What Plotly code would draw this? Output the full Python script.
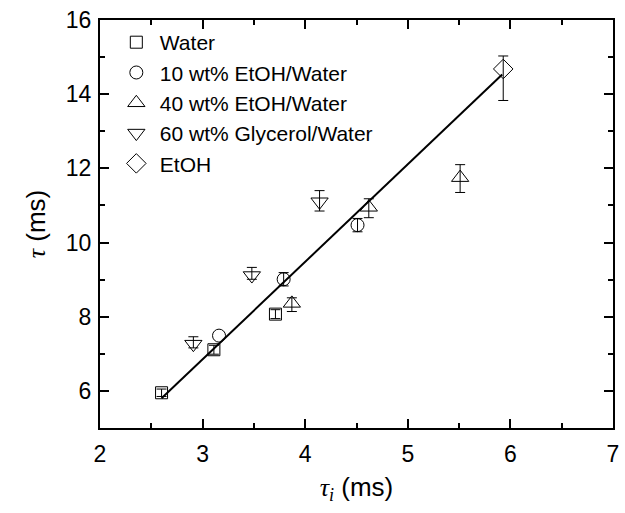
import plotly.graph_objects as go

# Measured lifetimes: tau_i (x) against tau (y), with y uncertainties
water_x = [2.60, 3.11, 3.71]
water_y = [5.95, 7.11, 8.07]
water_err = [0.10, 0.12, 0.12]

etoh10_x = [3.16, 3.79, 4.51]
etoh10_y = [7.49, 9.01, 10.47]
etoh10_err = ["NaN", 0.18, 0.18]   # first point has no error bar

etoh40_x = [3.87, 4.62, 5.51]
etoh40_y = [8.36, 10.95, 11.75]
etoh40_up = [0.15, 0.23, 0.35]
etoh40_dn = [0.22, 0.28, 0.40]

glyc60_x = [2.91, 3.48, 4.14]
glyc60_y = [7.26, 9.11, 11.10]
glyc60_up = [0.20, 0.22, 0.30]
glyc60_dn = [0.10, 0.10, 0.25]

etoh_x = [5.93]
etoh_y = [14.68]
etoh_up = [0.35]
etoh_dn = [0.85]

fit_x = [2.60, 5.92]
fit_y = [5.80, 14.53]

FONT = "Liberation Sans, Arial, sans-serif"
SERIF = "Liberation Serif, Times New Roman, serif"

fig = go.Figure()

fig.add_trace(go.Scatter(
    x=fit_x, y=fit_y, mode="lines", line=dict(color="black", width=2),
    showlegend=False, hoverinfo="skip"))


def add_series(name, xs, ys, symbol, size, up, dn):
    fig.add_trace(go.Scatter(
        x=xs, y=ys, mode="markers", name=name, legendgroup=name,
        marker=dict(symbol=symbol, size=size, color="black",
                    line=dict(color="black", width=1)),
        error_y=dict(type="data", symmetric=False, array=up, arrayminus=dn,
                     color="black", thickness=1, width=5),
    ))


add_series("Water", water_x, water_y, "square-open", 12, water_err, water_err)
add_series("10 wt% EtOH/Water", etoh10_x, etoh10_y, "circle-open", 13, etoh10_err, etoh10_err)
add_series("40 wt% EtOH/Water", etoh40_x, etoh40_y, "triangle-up-open", 15, etoh40_up, etoh40_dn)
add_series("60 wt% Glycerol/Water", glyc60_x, glyc60_y, "triangle-down-open", 15, glyc60_up, glyc60_dn)
add_series("EtOH", etoh_x, etoh_y, "diamond-open", 15, etoh_up, etoh_dn)

axis_common = dict(
    showline=True, linecolor="black", linewidth=2, mirror="allticks",
    ticks="inside", ticklen=9, tickwidth=2, tickcolor="black",
    showgrid=False, zeroline=False,
    tickfont=dict(family=FONT, size=23, color="black"),
)

fig.update_xaxes(
    range=[2, 7], dtick=1, tick0=2, ticklabelstandoff=4,
    minor=dict(ticks="inside", ticklen=5, tickwidth=2, dtick=0.5, tickcolor="black"),
    title=dict(text=f"<span style='font-family:{SERIF}'><i>τ<sub>i</sub></i></span> (ms)",
               font=dict(family=FONT, size=26, color="black"), standoff=12),
    **axis_common)
fig.update_yaxes(
    range=[5, 16], dtick=2, tick0=6, ticklabelstandoff=2,
    minor=dict(ticks="inside", ticklen=5, tickwidth=2, dtick=1, tickcolor="black"),
    title=dict(text=f"<span style='font-family:{SERIF}'><i>τ</i></span> (ms)",
               font=dict(family=FONT, size=26, color="black"), standoff=13),
    **axis_common)

fig.update_layout(
    width=625, height=513,
    margin=dict(l=100, r=6, t=20, b=85),
    plot_bgcolor="white", paper_bgcolor="white",
    legend=dict(x=0.025, y=0.995, xanchor="left", yanchor="top",
                bgcolor="rgba(0,0,0,0)", traceorder="grouped", tracegroupgap=0,
                font=dict(family=FONT, size=21, color="black"),
                itemwidth=37),
)

fig.write_html("out.html")
